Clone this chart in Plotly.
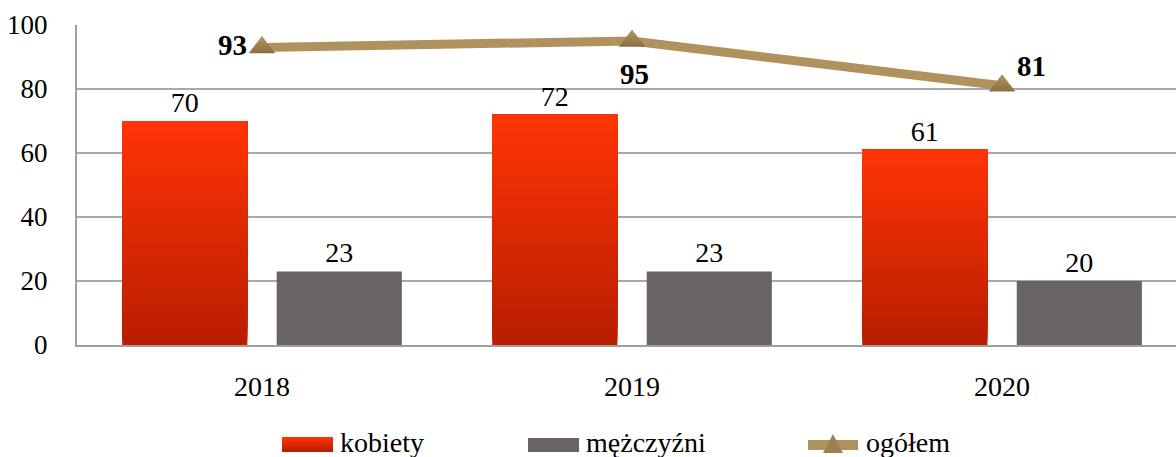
import plotly.graph_objects as go

lata = ["2018", "2019", "2020"]
kobiety = [70, 72, 61]
mezczyzni = [23, 23, 20]
ogolem = [93, 95, 81]
nazwy = ["kobiety", "mężczyźni", "ogółem"]

FONT = "Liberation Serif"
RED_TOP = (255, 52, 6)
RED_BOTTOM = (184, 30, 0)
GRAY = "#686463"
TAN = "#B0925F"

W, H = 1176, 457
L, T, B = 77, 25, 112
PLOT_W, PLOT_H = W - L, H - T - B


def mix(c1, c2, t):
    return "rgb({},{},{})".format(*[round(a + (b - a) * t) for a, b in zip(c1, c2)])


fig = go.Figure()

# women: full bar plus overlays that shade it from dark (bottom) to bright (top)
N = 48
for i in range(N):
    frac = i / N
    fig.add_trace(go.Bar(
        x=lata,
        base=[v * frac for v in kobiety],
        y=[v - v * frac for v in kobiety],
        offsetgroup="k",
        marker=dict(color=mix(RED_BOTTOM, RED_TOP, i / (N - 1)), line=dict(width=0)),
        text=[str(v) for v in kobiety] if i == 0 else None,
        textposition="outside" if i == 0 else "none",
        textfont=dict(family=FONT, size=28, color="black"),
        cliponaxis=False,
        name=nazwy[0],
        showlegend=False,
        hoverinfo="skip" if i else None,
    ))

fig.add_trace(go.Bar(
    x=lata, y=mezczyzni, offsetgroup="m", name=nazwy[1],
    marker=dict(color=GRAY, line=dict(width=0)),
    text=[str(v) for v in mezczyzni], textposition="outside",
    textfont=dict(family=FONT, size=28, color="black"),
    cliponaxis=False, showlegend=False,
))

fig.add_trace(go.Scatter(
    x=lata, y=ogolem, name=nazwy[2], mode="lines+markers",
    line=dict(color=TAN, width=9),
    marker=dict(symbol="triangle-up", size=23, color="#B39862",
                gradient=dict(type="vertical", color="#8A6E42"),
                line=dict(width=0)),
    cliponaxis=False, showlegend=False,
))

# bold value labels for the total line (x given as category index)
label_pos = [
    dict(xanchor="right", yanchor="middle", xshift=-13, yshift=2),
    dict(xanchor="center", yanchor="middle", xshift=2, yshift=-33),
    dict(xanchor="left", yanchor="middle", xshift=13, yshift=20),
]
ann = []
for idx, (v, pos) in enumerate(zip(ogolem, label_pos)):
    ann.append(dict(x=idx, y=v, xref="x", yref="y", text=f"<b>{v}</b>",
                    showarrow=False, font=dict(family=FONT, size=29, color="black"),
                    **pos))


# legend drawn below the plot (positions in pixels converted to paper units)
def px(x):
    return (x - L) / PLOT_W


def py(y):
    return (H - B - y) / PLOT_H


shapes = []
steps = 12
top_y, bot_y = 437, 452
for i in range(steps):
    y0 = bot_y - (bot_y - top_y) * i / steps
    shapes.append(dict(type="rect", xref="paper", yref="paper",
                       x0=px(282), x1=px(333), y0=py(y0), y1=py(top_y),
                       fillcolor=mix(RED_BOTTOM, RED_TOP, i / (steps - 1)),
                       line=dict(width=0)))
shapes.append(dict(type="rect", xref="paper", yref="paper",
                   x0=px(528), x1=px(579), y0=py(452), y1=py(438),
                   fillcolor=GRAY, line=dict(width=0)))
shapes.append(dict(type="line", xref="paper", yref="paper",
                   x0=px(808), x1=px(858), y0=py(445), y1=py(445),
                   line=dict(color=TAN, width=10)))
tx, ty = 833, 445
shapes.append(dict(type="path", xref="paper", yref="paper",
                   path=f"M {px(tx-10)},{py(ty+8)} L {px(tx+10)},{py(ty+8)} L {px(tx)},{py(ty-11)} Z",
                   fillcolor="#9E8050", line=dict(width=0)))

for x, label in zip([338, 584, 864], nazwy):
    ann.append(dict(xref="paper", yref="paper", x=px(x), y=py(442),
                    text=label, showarrow=False, xanchor="left", yanchor="middle",
                    font=dict(family=FONT, size=28, color="black")))

fig.update_layout(
    width=W, height=H,
    margin=dict(l=L, r=0, t=T, b=B, pad=0),
    paper_bgcolor="white", plot_bgcolor="white",
    barmode="group", bargap=0.165, bargroupgap=0.19,
    showlegend=False,
    shapes=shapes, annotations=ann,
    font=dict(family=FONT, size=28, color="black"),
)
fig.update_xaxes(
    type="category", range=[-0.5, 2.47],
    showline=True, linecolor="#A0A0A0", linewidth=2,
    showgrid=False, ticks="", ticklabelstandoff=15,
    tickfont=dict(family=FONT, size=28, color="black"),
)
fig.update_yaxes(
    range=[0, 100], dtick=20,
    showline=True, linecolor="#A0A0A0", linewidth=2,
    showgrid=True, gridcolor="#A8A8A8", gridwidth=2,
    zeroline=False, ticks="", ticklabelstandoff=22,
    tickfont=dict(family=FONT, size=27, color="black"),
)

fig.write_html("out.html")
